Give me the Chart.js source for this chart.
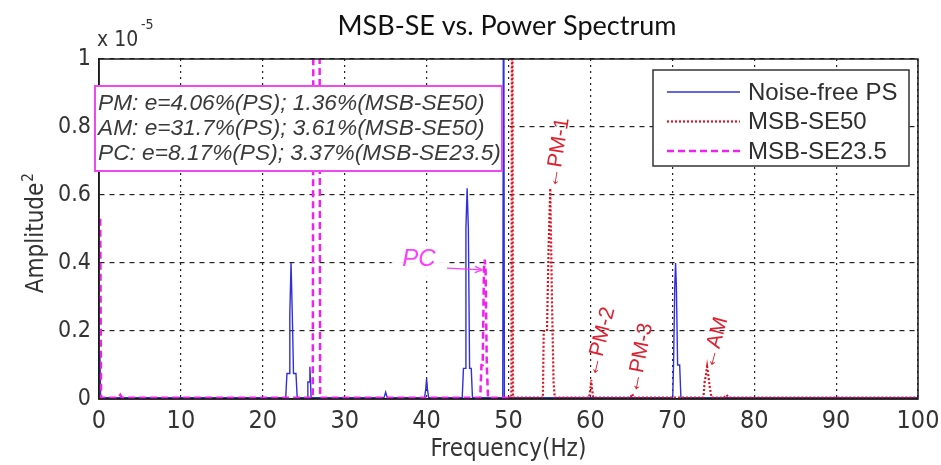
<!DOCTYPE html>
<html>
<head>
<meta charset="utf-8">
<title>MSB-SE vs. Power Spectrum</title>
<script src="https://cdn.jsdelivr.net/npm/chart.js@4/dist/chart.umd.min.js"></script>
<style>
  html, body { margin: 0; padding: 0; background: #ffffff; }
  #wrap { width: 941px; height: 465px; position: relative; }
  canvas { display: block; }
</style>
</head>
<body>
<div id="wrap"><canvas id="spec" width="941" height="465"></canvas></div>
<script>
// Amplitude values are in units of 1e-5 (see the "x 10^-5" axis multiplier).
// Values above 1 run off the top of the plot.

// Noise-free power spectrum
const psFreq = [0.1, 0.2, 22.8, 22.95, 23.2, 23.3, 23.45, 23.6, 23.75, 24.05, 24.2,
  25.4, 25.5, 25.65, 25.75, 25.9, 34.8, 35.0, 35.2, 39.75, 39.9, 40.0, 40.1, 40.25,
  44.35, 44.5, 44.7, 44.8, 44.95, 45.1, 45.25, 45.45, 45.6, 49.3, 49.4, 49.5,
  70.05, 70.15, 70.3, 70.4, 70.5, 70.65, 70.9, 71.05, 100];
const psAmp = [0.14, 0.004, 0.004, 0.075, 0.075, 0.25, 0.40, 0.25, 0.075, 0.075, 0.004,
  0.004, 0.05, 0.05, 0.095, 0.004, 0.004, 0.02, 0.004, 0.004, 0.03, 0.06, 0.03, 0.004,
  0.004, 0.09, 0.09, 0.5, 0.62, 0.5, 0.09, 0.09, 0.004, 0.004, 1.6, 0.004,
  0.004, 0.1, 0.33, 0.40, 0.33, 0.1, 0.1, 0.004, 0.004];

// MSB-SE with 50 Hz carrier
const se50Freq = [50.0, 50.35, 50.45, 50.55, 54.2, 54.3, 54.7, 54.9, 55.1, 55.3, 55.5, 55.65,
  59.85, 60.0, 60.1, 60.2, 60.35, 64.9, 65.1, 65.3,
  73.8, 73.95, 74.1, 74.25, 74.4, 74.6, 74.8, 76.3, 76.6, 76.9, 100];
const se50Amp = [0.004, 0.004, 1.6, 0.004, 0.004, 0.2, 0.2, 0.45, 0.62, 0.3, 0.05, 0.004,
  0.004, 0.03, 0.056, 0.03, 0.004, 0.004, 0.015, 0.004,
  0.004, 0.05, 0.07, 0.095, 0.07, 0.03, 0.004, 0.004, 0.012, 0.004, 0.004];

// MSB-SE with 23.5 Hz carrier
const se235Freq = [0.15, 0.25, 2.4, 2.6, 2.8, 26.1, 26.2, 26.9, 27.0,
  46.55, 46.7, 46.85, 47.0, 47.1, 47.2, 47.35, 47.5, 50.0];
const se235Amp = [0.53, 0.004, 0.004, 0.012, 0.004, 0.004, 1.6, 1.6, 0.004,
  0.004, 0.1, 0.1, 0.38, 0.41, 0.38, 0.1, 0.004, 0.004];

const seriesNames = ['Noise-free PS', 'MSB-SE50', 'MSB-SE23.5'];

// Axis ticks
const freqTicks = [0, 10, 20, 30, 40, 50, 60, 70, 80, 90, 100];
const ampTicks = [0, 0.2, 0.4, 0.6, 0.8, 1];

// Text annotations
const errorLines = [
  'PM: e=4.06%(PS); 1.36%(MSB-SE50)',
  'AM: e=31.7%(PS); 3.61%(MSB-SE50)',
  'PC: e=8.17%(PS); 3.37%(MSB-SE23.5)'
];
const peakLabels = ['\u2190PM-1', '\u2190PM-2', '\u2190PM-3', '\u2190AM'];
const pcLabel = 'PC';

// Where the rotated peak labels start (data coordinates) and their tilt
const peakLabelPlacement = [
  { f: 55.3, a: 0.62, deg: -81 },
  { f: 60.15, a: 0.066, deg: -76 },
  { f: 65.2, a: 0.017, deg: -79 },
  { f: 74.4, a: 0.09, deg: -75 }
];

const NARROW = "'Liberation Sans Narrow', 'DejaVu Sans Condensed', 'Arial Narrow', sans-serif";
const SANS = "'Liberation Sans', Arial, sans-serif";

const toPoints = (xs, ys) => xs.map((x, i) => ({ x: x, y: ys[i] }));

const overlay = {
  id: 'overlay',
  afterDatasetsDraw(chart) {
    const { ctx, chartArea: a, scales } = chart;
    const xs = scales.x, ys = scales.y;
    ctx.save();

    // plot frame
    ctx.setLineDash([]);
    ctx.strokeStyle = '#1a1a1a';
    ctx.lineWidth = 1.5;
    ctx.strokeRect(a.left, a.top, a.right - a.left, a.bottom - a.top);

    // rotated peak labels
    ctx.fillStyle = '#e0202e';
    ctx.font = '21px ' + SANS;
    ctx.textAlign = 'left';
    ctx.textBaseline = 'middle';
    peakLabels.forEach((t, i) => {
      const p = peakLabelPlacement[i];
      ctx.save();
      ctx.translate(xs.getPixelForValue(p.f), ys.getPixelForValue(p.a));
      ctx.rotate(p.deg * Math.PI / 180);
      ctx.fillText(t, 0, 0);
      ctx.restore();
    });

    // PC label with arrow
    const pcRight = xs.getPixelForValue(41.1);
    const pcMid = ys.getPixelForValue(0.41);
    ctx.fillStyle = 'rgba(255,255,255,0.92)';
    ctx.fillRect(pcRight - 44, pcMid - 17, 56, 38);
    ctx.fillStyle = '#ff3cff';
    ctx.font = 'italic 24px ' + SANS;
    ctx.textAlign = 'right';
    ctx.fillText(pcLabel, pcRight, pcMid);
    const ax0 = xs.getPixelForValue(42.5), ay0 = ys.getPixelForValue(0.385);
    const ax1 = xs.getPixelForValue(46.8), ay1 = ys.getPixelForValue(0.38);
    ctx.strokeStyle = '#ff3cff';
    ctx.lineWidth = 1.3;
    ctx.beginPath(); ctx.moveTo(ax0, ay0); ctx.lineTo(ax1, ay1); ctx.stroke();
    const ang = Math.atan2(ay1 - ay0, ax1 - ax0);
    ctx.beginPath();
    ctx.moveTo(ax1, ay1);
    ctx.lineTo(ax1 - 8 * Math.cos(ang - 0.4), ay1 - 8 * Math.sin(ang - 0.4));
    ctx.moveTo(ax1, ay1);
    ctx.lineTo(ax1 - 8 * Math.cos(ang + 0.4), ay1 - 8 * Math.sin(ang + 0.4));
    ctx.stroke();

    // error summary box
    ctx.fillStyle = '#ffffff';
    ctx.fillRect(95, 86, 407, 85);
    ctx.strokeStyle = '#f048f0';
    ctx.lineWidth = 2;
    ctx.strokeRect(95, 86, 407, 85);
    ctx.fillStyle = '#3a3a3a';
    ctx.font = 'italic 22.7px ' + SANS;
    ctx.textAlign = 'left';
    ctx.textBaseline = 'alphabetic';
    errorLines.forEach((t, i) => ctx.fillText(t, 98, 110 + i * 25));

    // legend
    ctx.fillStyle = '#ffffff';
    ctx.fillRect(653, 70, 256, 96);
    ctx.strokeStyle = '#333333';
    ctx.lineWidth = 1.5;
    ctx.strokeRect(653, 70, 256, 96);
    ctx.font = '24px ' + SANS;
    ctx.textBaseline = 'middle';
    chart.data.datasets.forEach((ds, i) => {
      const yy = 92 + i * 29.5;
      ctx.strokeStyle = ds.borderColor;
      ctx.lineWidth = ds.borderWidth;
      ctx.setLineDash(ds.borderDash || []);
      ctx.beginPath(); ctx.moveTo(667, yy); ctx.lineTo(740, yy); ctx.stroke();
      ctx.setLineDash([]);
      ctx.fillStyle = '#2e2e2e';
      ctx.fillText(ds.label, 748, yy + 1);
    });
    ctx.restore();
  },
  afterDraw(chart) {
    const { ctx, chartArea: a } = chart;
    ctx.save();
    // title
    ctx.fillStyle = '#111111';
    ctx.font = "27px Lato, 'Open Sans', sans-serif";
    ctx.textAlign = 'center';
    ctx.textBaseline = 'middle';
    ctx.fillText('MSB-SE vs. Power Spectrum', 507, 26);

    // exponent multiplier
    ctx.fillStyle = '#333333';
    ctx.textAlign = 'left';
    ctx.textBaseline = 'alphabetic';
    ctx.font = '21px ' + NARROW;
    ctx.fillText('x 10', 97, 46);
    ctx.font = '14px ' + NARROW;
    ctx.fillText('-5', 141, 29);

    // x axis title
    ctx.font = '24px ' + NARROW;
    ctx.textAlign = 'center';
    ctx.textBaseline = 'middle';
    ctx.fillText('Frequency(Hz)', (a.left + a.right) / 2, 450);

    // y axis title
    ctx.save();
    ctx.translate(37, 238);
    ctx.rotate(-Math.PI / 2);
    ctx.font = '24px ' + NARROW;
    ctx.textAlign = 'center';
    ctx.fillText('Amplitude', 0, 0);
    const w = ctx.measureText('Amplitude').width;
    ctx.font = '15px ' + NARROW;
    ctx.textAlign = 'left';
    ctx.fillText('2', w / 2 + 1, -8);
    ctx.restore();
    ctx.restore();
  }
};

new Chart(document.getElementById('spec'), {
  type: 'line',
  data: {
    datasets: [
      {
        label: seriesNames[0],
        data: toPoints(psFreq, psAmp),
        borderColor: '#3030dc',
        borderWidth: 1.4,
        order: 3
      },
      {
        label: seriesNames[1],
        data: toPoints(se50Freq, se50Amp),
        borderColor: '#e0101e',
        borderWidth: 2.2,
        borderDash: [2, 2],
        order: 1
      },
      {
        label: seriesNames[2],
        data: toPoints(se235Freq, se235Amp),
        borderColor: '#f020f0',
        borderWidth: 2.5,
        borderDash: [7, 4],
        order: 2
      }
    ]
  },
  options: {
    responsive: false,
    animation: false,
    devicePixelRatio: 1,
    layout: { padding: { top: 59, right: 23, left: 0, bottom: 0 } },
    elements: { point: { radius: 0 }, line: { tension: 0 } },
    plugins: { legend: { display: false }, tooltip: { enabled: false }, title: { display: false } },
    scales: {
      x: {
        type: 'linear',
        min: 0, max: 100,
        afterBuildTicks: s => { s.ticks = freqTicks.map(v => ({ value: v })); },
        afterFit: s => { s.height = 66; s.paddingLeft = 0; s.paddingRight = 0; },
        ticks: {
          color: '#333333',
          font: { family: NARROW, size: 25 },
          padding: 7,
          maxRotation: 0,
          autoSkip: false,
          callback: v => String(v)
        },
        grid: { color: '#222222', lineWidth: 1.2, drawTicks: false },
        border: { display: true, color: '#1a1a1a', width: 1.5, dash: [2, 4] }
      },
      y: {
        type: 'linear',
        min: 0, max: 1,
        afterBuildTicks: s => { s.ticks = ampTicks.map(v => ({ value: v })); },
        afterFit: s => { s.width = 99; s.paddingTop = 0; s.paddingBottom = 0; },
        ticks: {
          color: '#333333',
          font: { family: NARROW, size: 23 },
          padding: 8,
          autoSkip: false,
          callback: v => String(v)
        },
        grid: { color: '#222222', lineWidth: 1.2, drawTicks: false },
        border: { display: true, color: '#1a1a1a', width: 1.5, dash: [5, 5] }
      }
    }
  },
  plugins: [overlay]
});
</script>
</body>
</html>
